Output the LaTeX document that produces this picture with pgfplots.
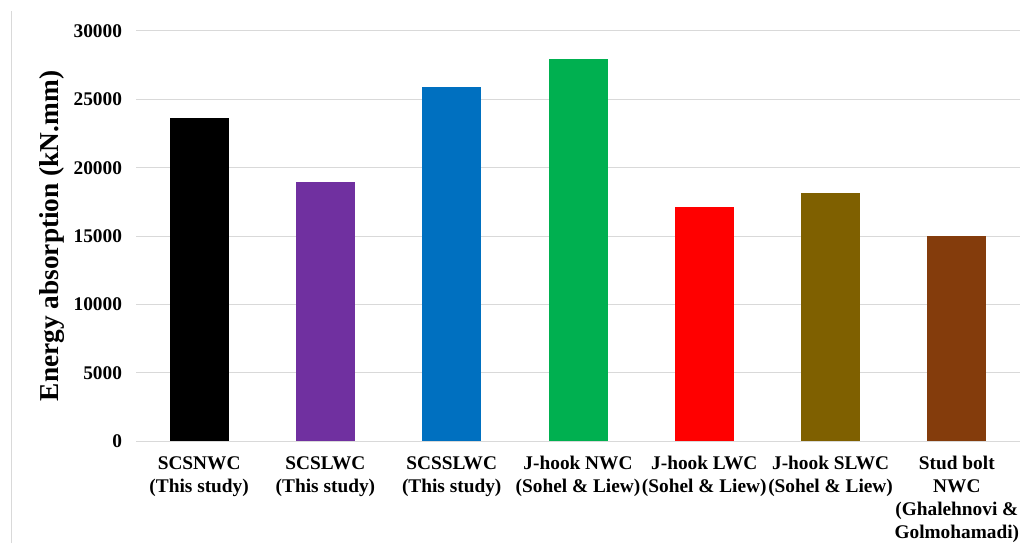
\documentclass[border=0pt]{standalone}
\usepackage{fontspec}
\setmainfont{Liberation Serif}
\usepackage{pgfplots}
\pgfplotsset{compat=1.18}

\definecolor{gridgray}{HTML}{D9D9D9}
\definecolor{cBlack}{HTML}{000000}
\definecolor{cPurple}{HTML}{7030A0}
\definecolor{cBlue}{HTML}{0070C0}
\definecolor{cGreen}{HTML}{00B050}
\definecolor{cRed}{HTML}{FF0000}
\definecolor{cOlive}{HTML}{7F6000}
\definecolor{cBrown}{HTML}{843C0C}

\begin{document}
\begin{tikzpicture}[x=1pt,y=1pt]
\useasboundingbox (0,0) rectangle (770.25,407.25);
% chart frame edge
\draw[gridgray, line width=0.75pt] (8.25,0) -- (8.25,399);
\begin{axis}[
  at={(102pt,76.5pt)}, anchor=south west,
  scale only axis, width=663pt, height=307.5pt,
  xmin=-0.5, xmax=6.5, ymin=0, ymax=30000,
  xtick={0,1,2,3,4,5,6},
  xticklabels={
    {SCSNWC\\(This study)},
    {SCSLWC\\(This study)},
    {SCSSLWC\\(This study)},
    {J-hook NWC\\(Sohel \& Liew)},
    {J-hook LWC\\(Sohel \& Liew)},
    {J-hook SLWC\\(Sohel \& Liew)},
    {Stud bolt\\NWC\\(Ghalehnovi \&\\Golmohamadi)}},
  ytick={0,5000,10000,15000,20000,25000,30000},
  scaled y ticks=false,
  major tick length=0pt,
  axis x line*=bottom,
  axis y line*=left,
  x axis line style={gridgray, line width=0.75pt, -},
  y axis line style={draw=none},
  ymajorgrids,
  grid style={gridgray, line width=0.75pt},
  /pgf/number format/assume math mode=true,
  yticklabel style={font=\fontsize{14.5}{17}\selectfont\bfseries, xshift=-7pt,
    /pgf/number format/fixed, /pgf/number format/precision=0,
    /pgf/number format/set thousands separator={}},
  xticklabel style={font=\fontsize{14.5}{17.25}\selectfont\bfseries, align=center, yshift=-8pt},
  ylabel={Energy absorption (kN.mm)},
  ylabel style={font=\fontsize{20.5}{24}\selectfont\bfseries, at={(axis description cs:-0.095,0.5)}, anchor=center},
  clip=false,
]
\addplot[ybar, bar shift=0pt, bar width=44.25pt, fill=cBlack,  draw=none] coordinates {(0,23630)};
\addplot[ybar, bar shift=0pt, bar width=44.25pt, fill=cPurple, draw=none] coordinates {(1,18960)};
\addplot[ybar, bar shift=0pt, bar width=44.25pt, fill=cBlue,   draw=none] coordinates {(2,25900)};
\addplot[ybar, bar shift=0pt, bar width=44.25pt, fill=cGreen,  draw=none] coordinates {(3,27950)};
\addplot[ybar, bar shift=0pt, bar width=44.25pt, fill=cRed,    draw=none] coordinates {(4,17100)};
\addplot[ybar, bar shift=0pt, bar width=44.25pt, fill=cOlive,  draw=none] coordinates {(5,18180)};
\addplot[ybar, bar shift=0pt, bar width=44.25pt, fill=cBrown,  draw=none] coordinates {(6,15020)};
\end{axis}
\end{tikzpicture}
\end{document}
